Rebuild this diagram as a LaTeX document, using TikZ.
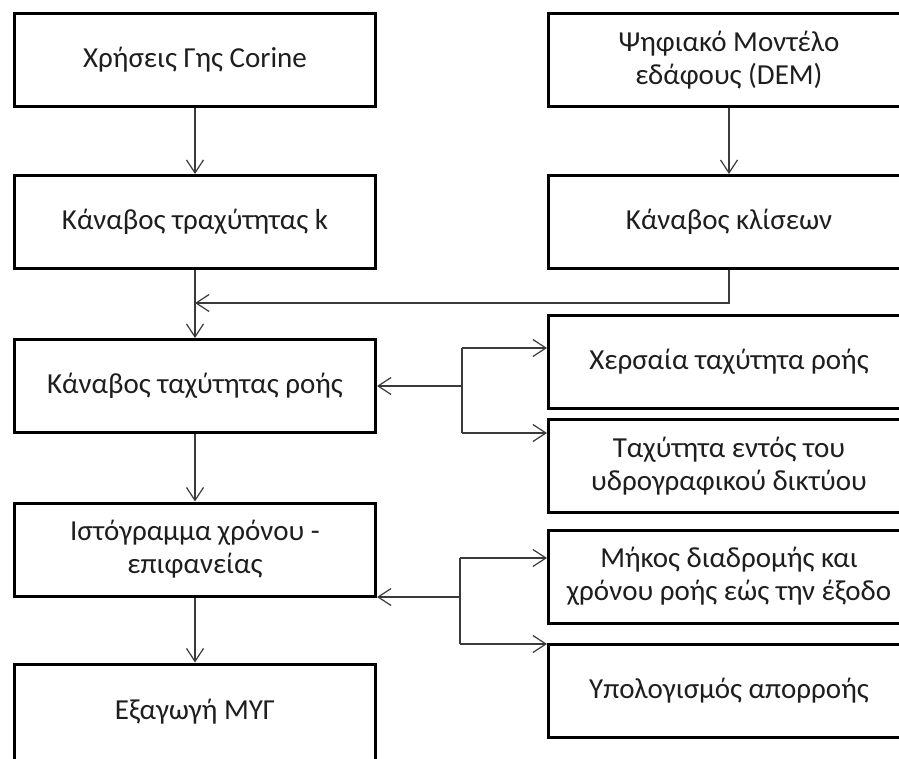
\documentclass[tikz,border=0pt]{standalone}
\usepackage{fontspec}
\setmainfont{Carlito}
\usetikzlibrary{arrows.meta,calc}
\definecolor{txt}{HTML}{1E1E1E}
\definecolor{lne}{HTML}{3A3A3A}
\begin{document}
\begin{tikzpicture}[x=1pt,y=-1pt,
  box/.style={draw=black,line width=3pt,minimum width=361pt,minimum height=93pt,
    inner sep=0pt,align=center,text=txt,font=\fontsize{29}{33}\selectfont},
  conn/.style={draw=lne,line width=1.2pt,-{Straight Barb[length=13pt,width=17pt]}},
  plain/.style={draw=lne,line width=1.2pt}]
\useasboundingbox (0,0) rectangle (899,758);
\clip (0,0) rectangle (899,758);
\fill[white] (0,0) rectangle (899,758);
% left column
\node[box] (corine) at (195,60) {Χρήσεις Γης Corine};
\node[box] (rough) at (195,222) {Κάναβος τραχύτητας k};
\node[box] (flow) at (195,386) {Κάναβος ταχύτητας ροής};
\node[box] (hist) at (195,549.5) {Ιστόγραμμα χρόνου -\\επιφανείας};
\node[box,minimum height=96pt] (export) at (195,712) {Εξαγωγή ΜΥΓ};
% right column
\node[box] (dem) at (729,60) {Ψηφιακό Μοντέλο\\εδάφους (DEM)};
\node[box] (slope) at (729,222) {Κάναβος κλίσεων};
\node[box] (land) at (729,362) {Χερσαία ταχύτητα ροής};
\node[box] (river) at (729,466) {Ταχύτητα εντός του\\υδρογραφικού δικτύου};
\node[box] (len) at (729,576.5) {Μήκος διαδρομής και\\χρόνου ροής εώς την έξοδο};
\node[box] (runoff) at (729,690.5) {Υπολογισμός απορροής};
% connectors
\draw[conn] (corine.south) -- (rough.north);
\draw[conn] (dem.south) -- (slope.north);
\draw[conn] (rough.south) -- (flow.north);
\coordinate (join) at (195,303);
\draw[conn] (slope.south) |- (join);
\draw[conn] (flow.south) -- (hist.north);
\draw[conn] (hist.south) -- (export.north);
% branch 1
\coordinate (b1) at (462,386);
\coordinate (b1t) at (462,348);
\coordinate (b1b) at (462,433);
\draw[plain] (b1t) -- (b1b);
\draw[conn] (b1) -- (flow.east);
\draw[conn] (b1t) -- (b1t -| land.west);
\draw[conn] (b1b) -- (b1b -| river.west);
% branch 2
\coordinate (b2) at (460,597);
\coordinate (b2t) at (460,558);
\coordinate (b2b) at (460,644);
\draw[plain] (b2t) -- (b2b);
\draw[conn] (b2) -- (b2 -| hist.east);
\draw[conn] (b2t) -- (b2t -| len.west);
\draw[conn] (b2b) -- (b2b -| runoff.west);
\end{tikzpicture}
\end{document}
